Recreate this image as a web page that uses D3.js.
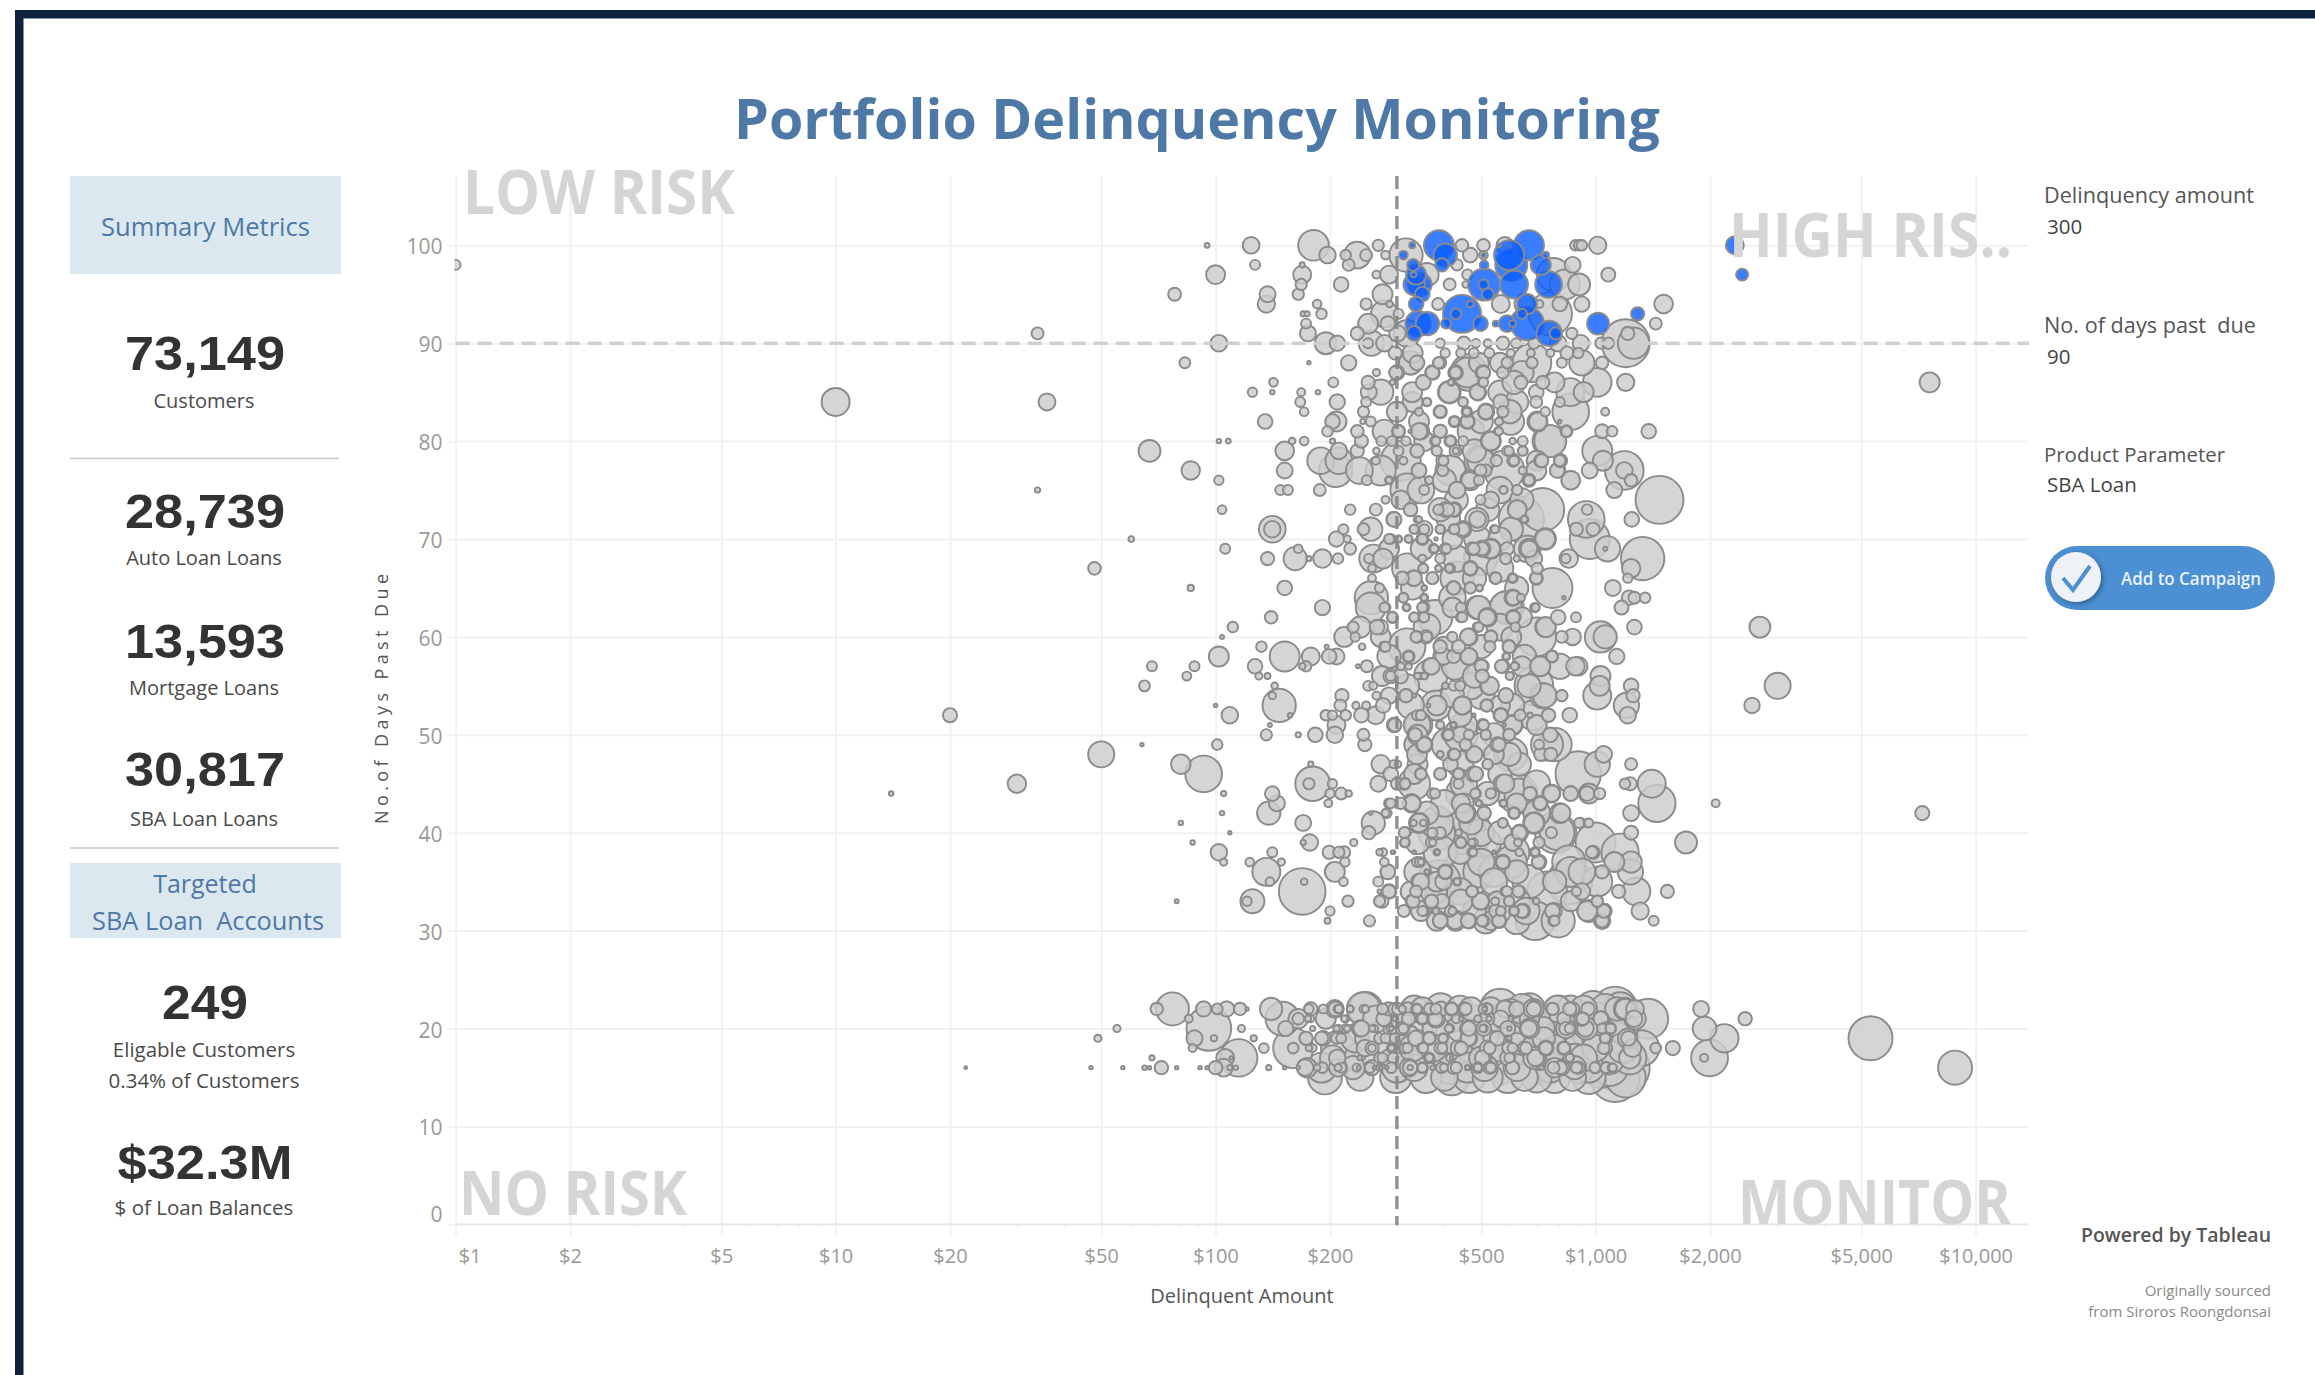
<!DOCTYPE html>
<html><head><meta charset="utf-8">
<script src="https://cdn.jsdelivr.net/npm/d3@7/dist/d3.min.js"></script>
<style>html,body{margin:0;padding:0;background:#fff;overflow:hidden}svg{display:block}text{font-family:"Open Sans",sans-serif}</style>
</head><body><svg id="c" width="2315" height="1375"></svg>
<script>
// each row: [days past due, delinquent amount $, balance]
const days15to22 = [
[22,77,273],[22,70,39],[22,93,58],[22,101,29],[22,107,58],[22,116,39],[22,121,3],[22,140,125],[22,178,45],[22,192,20],[22,206,80],[22,210,20],[22,226,13],[22,248,288],[22,248,13],[22,275,29],[22,296,39],[22,310,13],[22,338,29],[22,365,29],[22,380,29],[22,417,45],[22,452,45],[22,505,20],[22,519,29],[22,580,80],[22,620,58],[22,680,80],[22,770,39],[22,870,45],[22,955,45],[22,1195,125],[22,1270,80],[22,1125,498],[22,985,319],[22,560,404],[22,670,244],[22,800,179],[22,858,179],[22,391,244],[22,333,179],[22,1895,64],
[21,85,16],[21,150,288],[21,165,96],[21,165,34],[21,178,13],[21,220,13],[21,278,58],[21,313,58],[21,350,39],[21,380,80],[21,430,20],[21,490,13],[21,570,96],[21,670,96],[21,825,45],[21,925,39],[21,1035,58],[21,1270,115],[21,1375,400],[21,2475,45],
[20,96,498],[20,117,13],[20,153,58],[20,180,7],[20,211,13],[20,220,20],[20,242,65],[20,262,13],[20,287,10],[20,310,45],[20,413,20],[20,460,58],[20,505,13],[20,587,58],[20,670,96],[20,835,96],[20,945,125],[20,1065,39],[20,1090,39],[20,730,400],[20,905,319],[20,55,13],[20,1935,140],
[19,88,65],[19,99,10],[19,126,10],[19,173,45],[19,190,45],[19,208,29],[19,270,29],[19,287,29],[19,336,58],[19,365,45],[19,397,20],[19,463,58],[19,530,58],[19,587,8],[19,730,125],[19,1065,39],[19,1215,96],[19,1000,180],[19,233,200],[19,49,13],[19,2183,200],[19,5290,484],
[18,87,16],[18,134,24],[18,160,400],[18,160,29],[18,180,16],[18,258,45],[18,290,20],[18,315,29],[18,350,29],[18,391,39],[18,435,58],[18,519,58],[18,590,39],[18,650,45],[18,740,58],[18,825,45],[18,1065,39],[18,1250,80],[18,1440,29],[18,1597,51],[18,210,290],[18,1320,320],
[17,115,352],[17,106,80],[17,110,3],[17,68,7],[17,203,156],[17,240,244],[17,240,7],[17,270,29],[17,293,29],[17,365,29],[17,413,13],[17,497,125],[17,587,58],[17,690,125],[17,850,29],[17,1230,115],[17,881,200],[17,1995,340],[17,1930,16],
[16,72,45],[16,67,3],[16,79,3],[16,91,3],[16,95,3],[16,100,45],[16,105,80],[16,109,7],[16,113,5],[16,138,7],[16,152,3],[16,165,3],[16,174,96],[16,191,29],[16,210,80],[16,210,13],[16,235,16],[16,258,58],[16,270,10],[16,290,29],[16,322,80],[16,350,29],[16,393,29],[16,423,39],[16,460,7],[16,490,29],[16,527,39],[16,605,45],[16,710,5],[16,780,96],[16,815,58],[16,900,39],[16,995,29],[16,1065,29],[16,1105,20],[16,1180,717],[16,1035,404],[16,905,244],[16,333,179],[16,22,2],[16,47,3],[16,57,3],[16,65,5],[16,8830,290],
[15,194,288],[15,240,180],[15,298,244],[15,358,244],[15,418,319],[15,465,244],[15,587,244],[15,650,179],[15,780,244],[15,870,179],[15,1125,603]];
const denseLowBand = [
[22,176,22],[22,207,54],[22,211,16],[22,226,11],[22,245,278],[22,245,16],[22,285,44],[22,302,36],[22,320,44],[22,339,22],[22,367,36],[22,392,54],[22,418,36],[22,455,36],[22,510,5],[22,517,36],[22,576,69],[22,598,100],[22,687,54],[22,771,36],[22,855,44],[22,793,178],[22,1137,136],[22,1195,100],[22,1160,278],[22,930,178],[22,687,100],
[21,195,100],[21,175,11],[21,218,11],[21,277,54],[21,297,7],[21,322,44],[21,350,25],[21,379,54],[21,443,5],[21,524,7],[21,518,54],[21,562,69],[21,920,54],[21,1032,54],[21,1262,69],[21,930,225],
[20,208,11],[20,222,11],[20,240,69],[20,258,11],[20,290,5],[20,312,25],[20,411,16],[20,464,54],[20,508,16],[20,508,54],[20,593,5],[20,667,69],[20,835,44],[20,855,25],[20,940,69],[20,1040,25],[20,1095,25],[20,728,136],
[19,173,44],[19,192,54],[19,214,25],[19,280,25],[19,296,25],[19,340,69],[19,365,36],[19,397,25],[19,464,69],[19,551,54],[19,593,5],[19,1060,25],[19,1220,54],
[18,176,11],[18,247,69],[18,258,16],[18,290,11],[18,320,25],[18,352,25],[18,395,25],[18,443,44],[18,526,36],[18,605,25],[18,656,36],[18,740,44],[18,826,36],[18,1050,36],
[17,209,69],[17,245,3],[17,275,25],[17,365,16],[17,418,3],[17,503,54],[17,593,25],[17,695,69],[17,855,16],[17,285,69],
[16,172,69],[16,185,11],[16,214,25],[16,238,4],[16,255,28],[16,262,3],[16,272,3],[16,282,3],[16,325,54],[16,325,7],[16,350,22],[16,372,5],[16,399,16],[16,430,32],[16,460,5],[16,490,16],[16,530,25],[16,604,44],[16,720,5],[16,775,36],[16,808,44],[16,890,32],[16,1000,32],[16,1065,32],[16,1110,16],[16,190,225],[16,415,278],[16,562,278],[16,621,178],[16,880,136],[16,1090,336],[17,1230,278],[20,930,225]];
const lowBandBackdrop = [
[22,440,178],[22,470,136],[22,530,136],[21,600,225],[22,640,225],[21,700,178],[21,540,178],[21,310,136],[21,265,178],[22,350,136],[21,420,178],[21,480,178],[21,830,225],[21,1000,278],[22,1060,225],
[20,340,225],[20,380,178],[20,300,178],[20,440,178],[20,520,225],[20,620,278],[20,790,278],[20,1180,225],[19,250,136],[19,320,178],[19,410,225],[19,500,178],[19,590,225],[19,660,278],[19,760,278],[19,860,225],[19,960,225],[19,1130,278],
[18,280,136],[18,330,178],[18,375,178],[18,470,225],[18,560,178],[18,620,225],[18,700,225],[18,780,178],[18,900,225],[18,1000,178],[18,1180,225],[17,325,225],[17,430,278],[17,540,278],[17,640,278],[17,760,278],[17,930,178],[17,1080,278],
[16,230,136],[16,300,225],[16,460,225],[16,510,178],[16,690,278],[16,760,225],[16,960,225],[15,400,178],[15,520,225],[15,700,225],[15,960,278],[15,1200,400]];
const mainBandBackdrop = [
[89,330,100],[88,560,100],[87,640,136],[86,780,100],[85,560,136],[84,330,100],[84,620,136],[83,300,100],[82,500,136],[81,470,178],
[79,480,136],[78,700,100],[76,400,136],[75,560,178],[74,430,136],[74,640,136],[73,520,136],[72,410,136],[71,600,136],[70,560,136],[70,420,100],
[69,350,136],[68,430,178],[67,560,178],[66,480,136],[65,620,136],[65,330,136],[64,420,178],[63,420,100],[62,640,100],[61,360,178],[61,560,178],[60,600,100],
[59,500,136],[58,650,136],[57,640,100],[56,480,136],[55,320,136],[54,420,136],[54,500,178],[53,560,100],[52,440,136],[51,450,178],[51,700,100],[50,540,136],[50,340,100],
[49,500,136],[48,540,100],[47,440,178],[47,340,100],[46,560,136],[45,700,178],[44,520,136],[43,400,178],[43,620,100],[42,360,136],[42,700,178],[41,470,136],[40,560,136],[39,340,136],[39,520,178],[38,440,136],[37,500,178],[36,340,178],[36,620,136],[35,540,178],[35,780,136],[34,440,178],[33,620,178],[33,860,100],[32,480,136],[31,620,178]];
const days30s = [
[39,170,7],[39,177,69],[39,231,13],[39,315,19],[39,373,13],[39,442,28],[39,472,13],[39,605,69],[39,710,32],[39,1000,400],[39,1730,121],[39,87,5],
[38,102,69],[38,141,25],[38,199,44],[38,211,32],[38,218,36],[38,276,16],[38,294,3],[38,333,3],[38,383,5],[38,390,278],[38,476,16],[38,540,3],[38,605,278],[38,693,16],[38,978,36],[38,1160,348],
[37,105,13],[37,123,19],[37,149,13],[37,219,22],[37,278,19],[37,570,44],[37,598,256],[37,710,54],[37,850,278],[37,1120,100],[37,1240,114],[37,339,25],[37,347,11],
[36,136,196],[36,206,100],[36,284,54],[36,360,5],[36,402,44],[36,460,625],[36,493,245],[36,540,225],[36,1235,160],[36,860,225],[36,920,178],
[35,139,19],[35,171,11],[35,217,19],[35,268,25],[35,344,69],[35,387,469],[35,432,11],[35,668,278],[35,855,514],[35,1010,225],
[34,169,544],[34,270,4],[34,286,54],[34,326,100],[34,473,36],[34,580,28],[34,630,36],[34,890,22],[34,920,69],[34,1150,44],[34,1280,196],[34,1545,44],[34,375,178],[34,745,400],
[33,125,144],[33,121,22],[33,223,32],[33,274,44],[33,329,44],[33,370,44],[33,386,225],[33,498,75],[33,592,25],[33,698,11],[33,1010,32],[33,442,136],[33,552,100],[33,79,4],
[32,200,22],[32,347,100],[32,353,25],[32,420,16],[32,552,178],[32,563,22],[32,610,19],[32,640,44],[32,657,178],[32,775,69],[32,960,121],[32,1055,54],[32,1310,75],[32,313,36],
[31,197,9],[31,254,32],[31,382,100],[31,390,54],[31,428,100],[31,464,59],[31,507,36],[31,514,160],[31,557,54],[31,693,374],[31,775,28],[31,797,278],[31,1040,69],[31,1040,44],[31,1422,25]];
const dense30to47 = [
[47,520,28],[46,347,36],[46,390,36],[46,436,36],[46,484,54],[45,570,87],[45,314,36],[45,450,178],
[44,378,25],[44,484,25],[44,530,25],[44,630,225],[44,672,44],[44,766,69],[44,860,54],[44,950,54],
[43,329,69],[43,286,25],[43,442,87],[43,493,11],[43,572,16],[43,715,54],
[42,455,100],[42,509,44],[42,610,36],[42,812,87],[42,280,16],
[41,343,87],[41,570,25],[41,688,100],[41,905,25],[41,955,19],
[40,382,336],[40,468,469],[40,792,300],[40,632,69],[40,315,32],
[39,368,22],[39,442,32],[39,478,16],[39,605,69],[39,315,25],[39,625,16],
[38,382,11],[38,473,22],[38,333,3],[38,292,3],[38,270,11],[38,630,16],[38,692,25],[38,985,44],
[37,345,25],[37,570,54],[37,707,44],
[36,402,54],[36,360,7],[36,1040,44],[36,284,54],
[35,347,69],[35,432,16],[35,382,100],[35,398,69],
[34,337,36],[34,473,32],[34,585,28],[34,626,36],[34,286,44],
[33,331,44],[33,370,44],[33,394,54],[33,544,16],[33,592,25],[33,1010,32],[33,270,32],[33,498,69],
[32,350,25],[32,415,32],[32,380,11],[32,546,44],[32,563,22],[32,610,25],[32,643,54],[32,770,54],[32,950,100],[32,1050,44],
[31,390,54],[31,462,54],[31,503,32],[31,427,69],[31,530,87],[31,557,44],[31,780,25]];
const days40s = [
[49,101,28],[49,247,44],[49,337,136],[49,354,54],[49,455,36],[49,552,54],[49,745,256],[49,782,278],[49,710,25],[49,410,278],[49,64,3],
[48,423,36],[48,480,64],[48,598,278],[48,717,44],[48,762,44],[48,1050,69],[48,390,11],[48,339,100],[48,50,170],
[47,178,7],[47,272,87],[47,294,16],[47,302,11],[47,415,54],[47,520,25],[47,630,136],[47,1010,160],[47,1240,36],[47,81,95],
[46,289,54],[46,347,32],[46,390,36],[46,436,28],[46,478,59],[46,900,514],[46,333,100],[46,93,336],
[45,180,300],[45,176,32],[45,268,64],[45,300,36],[45,315,28],[45,333,256],[45,436,25],[45,578,87],[45,1233,44],[45,1195,28],[45,1405,196],[45,203,22],[45,30,85],
[44,105,7],[44,141,54],[44,200,22],[44,214,36],[44,224,11],[44,372,28],[44,482,25],[44,530,25],[44,622,400],[44,672,44],[44,765,81],[44,860,54],[44,960,100],[44,1025,32],[44,442,225],[44,14,5],
[43,145,64],[43,198,16],[43,289,25],[43,307,32],[43,328,87],[43,450,100],[43,493,9],[43,572,11],[43,715,44],[43,1450,348],[43,2070,16],
[42,104,5],[42,138,136],[42,256,3],[42,282,25],[42,453,87],[42,509,44],[42,610,28],[42,805,100],[42,1240,64],[42,7240,50],
[41,170,64],[41,260,136],[41,332,11],[41,343,100],[41,352,11],[41,382,278],[41,570,22],[41,688,114],[41,910,28],[41,960,19],[41,81,5],
[40,109,3],[40,253,44],[40,314,32],[40,372,25],[40,390,32],[40,436,11],[40,450,469],[40,498,178],[40,630,54],[40,765,32],[40,785,427],[40,1240,49]];
const days50s = [
[59,132,28],[59,196,4],[59,243,11],[59,278,28],[59,592,40],[59,319,336],[59,398,100],
[58,102,100],[58,152,225],[58,178,81],[58,199,54],[58,208,64],[58,394,75],[58,423,44],[58,464,75],[58,582,16],[58,768,36],[58,1137,59],[58,286,136],[58,322,25],
[57,127,54],[57,169,11],[57,173,28],[57,237,4],[57,250,36],[57,368,69],[57,503,44],[57,570,44],[57,615,16],[57,715,100],[57,805,160],[57,900,87],[57,442,278],[57,307,16],[57,68,25],[57,88,25],
[56,130,13],[56,137,9],[56,503,44],[56,595,16],[56,1030,100],[56,289,54],[56,347,11],[56,355,11],[56,274,100],[56,368,278],[56,84,20],
[55,143,11],[55,252,25],[55,260,16],[55,525,87],[55,668,136],[55,688,374],[55,1240,54],[55,1025,100],[55,402,11],[55,470,178],[55,65,30],[55,3013,170],
[54,141,13],[54,215,44],[54,265,16],[54,286,69],[54,317,44],[54,333,4],[54,580,54],[54,735,144],[54,815,32],[54,1010,196],[54,1255,44],
[53,100,3],[53,147,278],[53,213,36],[53,234,13],[53,249,16],[53,276,54],[53,363,4],[53,380,225],[53,382,100],[53,446,81],[53,517,40],[53,1205,160],[53,326,178],[53,605,136],[53,2580,60],
[52,109,69],[52,157,5],[52,195,28],[52,203,22],[52,220,28],[52,242,54],[52,264,81],[52,339,25],[52,347,25],[52,478,3],[52,563,54],[52,672,7],[52,685,225],[52,752,44],[52,855,54],[52,1215,69],[52,20,50],
[51,139,4],[51,208,81],[51,296,44],[51,343,178],[51,390,16],[51,423,7],[51,507,28],[51,605,100],[51,575,3],
[50,136,32],[50,165,7],[50,183,54],[50,206,69],[50,245,36],[50,335,44],[50,410,28],[50,464,25],[50,514,25],[50,592,36],[50,760,54],[50,442,278]];
const dense48to67 = [
[67,352,22],[66,332,64],[66,372,36],[67,386,11],[67,414,25],[67,468,44],[66,546,32],[66,605,16],[66,698,36],
[65,423,44],[65,468,32],[65,495,11],[65,354,7],
[64,312,25],[64,354,11],[64,607,54],[64,636,16],
[63,489,136],[63,580,256],[63,318,11],[63,352,36],[63,442,25],[63,692,22],[63,280,25],
[62,292,25],[62,333,22],[62,352,28],[62,442,25],[62,520,87],[62,607,44],
[61,489,25],[61,615,22],[61,737,100],[61,272,54],
[60,337,32],[60,358,44],[60,419,25],[60,462,69],[60,530,44],
[59,390,44],[59,280,25],[59,436,44],[59,592,44],[59,527,32],
[58,322,36],[58,398,69],[58,464,69],[58,582,11],[58,768,32],
[57,500,44],[57,565,44],[57,612,16],[57,715,100],[57,885,87],[57,322,11],[57,370,69],[57,427,178],
[56,289,25],[56,340,11],[56,354,11],[56,503,44],[56,594,16],[56,307,54],
[55,527,81],[55,423,25],[55,440,25],[54,726,160],[54,815,32],[54,581,54],[54,317,44],
[53,446,87],[53,517,36],[52,563,44],[52,633,32],[52,347,25],[52,752,44],
[51,605,87],[51,505,36],[51,295,54],[51,390,16],[51,423,11],[51,339,178],
[50,592,36],[50,408,36],[50,464,25],[50,514,25],[50,442,69],[50,335,44],
[49,557,44],[49,354,69],[49,337,136],[48,478,69],[48,425,32],[48,390,11],[48,592,136]];
const days60s = [
[69,106,25],[69,165,19],[69,226,36],[69,376,16],[69,405,22],[69,478,36],[69,503,44],[69,530,87],[69,668,100],[69,1075,160],[69,1060,4],[69,286,100],
[68,137,44],[68,162,136],[68,176,7],[68,191,87],[68,210,28],[68,253,22],[68,260,196],[68,276,100],[68,350,16],[68,390,25],[68,580,32],[68,620,11],[68,688,69],[68,850,87],[68,835,22],[68,1330,469],[68,498,278],
[67,258,16],[67,352,25],[67,386,11],[67,412,16],[67,468,54],[67,702,32],[67,1240,87],[67,319,225],[67,48,40],
[66,258,16],[66,310,44],[66,333,59],[66,372,36],[66,545,36],[66,605,25],[66,698,44],[66,1215,22],[66,432,278],
[65,152,54],[65,270,22],[65,354,7],[65,423,44],[65,468,32],[65,495,11],[65,770,400],[65,1110,64],[65,86,10],
[64,257,278],[64,312,22],[64,354,16],[64,605,69],[64,825,3],[64,1225,54],[64,1350,28],[64,1265,36],
[63,191,59],[63,256,225],[63,278,25],[63,318,16],[63,493,136],[63,585,278],[63,695,16],[63,1170,49],[63,350,25],
[62,140,40],[62,292,32],[62,333,25],[62,378,300],[62,354,25],[62,446,25],[62,607,54],[62,797,54],[62,888,25],[62,518,69],
[61,111,28],[61,230,32],[61,240,114],[61,266,54],[61,493,22],[61,740,100],[61,1265,54],[61,2706,110],
[60,104,4],[60,218,100],[60,233,22],[60,272,100],[60,339,36],[60,360,25],[60,420,25],[60,464,75],[60,530,40],[60,700,374],[60,815,36],[60,870,69],[60,1030,245],[60,1060,136]];
const days70s = [
[79,152,87],[79,211,69],[79,236,44],[79,265,11],[79,303,25],[79,339,44],[79,382,25],[79,429,11],[79,592,22],[79,643,22],[79,1010,225],[79,67,120],
[78,189,178],[78,211,178],[78,264,16],[78,307,400],[78,398,25],[78,498,178],[78,610,25],[78,717,44],[78,805,32],[78,1045,100],
[77,152,64],[77,207,278],[77,239,178],[77,272,225],[77,343,54],[77,415,225],[77,514,36],[77,575,400],[77,797,54],[77,965,64],[77,1190,374],[77,1190,69],[77,86,85],
[76,250,25],[76,286,16],[76,364,16],[76,468,100],[76,668,28],[76,860,87],[76,1240,40],[76,102,22],
[75,148,25],[75,155,25],[75,188,36],[75,319,278],[75,432,69],[75,572,16],[75,622,25],[75,1120,64],[75,34,7],
[74,1473,576],
[73,104,19],[73,226,28],[73,264,36],[73,326,44],[73,386,28],[73,402,54],[73,423,44],[73,622,87],[73,725,469],[73,950,28],
[72,294,54],[72,339,11],[72,489,69],[72,638,514],[72,649,11],[72,945,336],[72,1245,54],
[71,141,178],[71,141,69],[71,217,25],[71,245,36],[71,256,136],[71,333,19],[71,354,25],[71,390,19],[71,423,25],[71,448,44],[71,540,16],[71,890,44],[71,985,44],
[70,208,59],[70,222,13],[70,289,25],[70,303,13],[70,322,13],[70,350,25],[70,380,3],[70,965,400],[70,737,100],[70,489,178],[70,60,8]];
const dense69to87 = [
[87,300,54],[88,326,136],[86,352,54],[88,390,36],[87,372,54],[87,428,54],[87,460,225],[87,505,54],[86,505,25],[86,418,11],[85,490,69],[85,412,114],[84,448,22],[84,360,19],
[83,390,44],[83,458,28],[83,515,69],[83,570,32],[82,343,100],[82,425,32],[82,460,54],[82,557,16],[82,598,178],[82,705,81],[81,303,36],[81,347,69],[81,390,44],[81,553,16],[81,838,36],
[80,530,100],[80,378,25],[80,415,36],[80,448,25],[80,752,256],[79,585,25],[79,643,25],[79,382,25],[79,428,36],[79,339,44],
[78,495,225],[78,394,32],[78,548,32],[78,607,36],[78,722,44],[78,808,44],[78,312,16],
[77,498,36],[77,396,32],[77,343,54],[77,643,16],[77,698,100],[77,792,54],
[76,365,16],[76,466,69],[76,493,25],[76,668,44],[76,860,87],[76,286,11],
[75,432,69],[75,622,25],[75,572,16],[75,354,25],[75,347,178],[74,307,87],[74,530,69],[74,498,25],[74,280,16],
[73,390,136],[73,408,44],[73,425,54],[73,326,44],[73,622,87],
[72,487,136],[72,295,54],[72,343,11],[72,650,16],
[71,354,69],[71,333,22],[71,390,22],[71,425,25],[71,448,69],[71,544,16],
[70,737,114],[70,303,11],[70,286,25],[70,322,16],[70,350,36],
[69,375,25],[69,473,44],[69,503,69],[69,530,100],[69,585,44],[69,668,69],[69,661,178],[69,402,32]];
const days80s = [
[89,297,44],[89,402,22],[89,442,22],[89,478,25],[89,525,25],[89,598,16],[89,675,16],[89,760,16],[89,841,44],[89,900,28],
[88,224,59],[88,176,3],[88,326,136],[88,339,54],[88,386,32],[88,493,100],[88,585,32],[88,680,374],[88,680,32],[88,815,25],[88,920,160],[88,1040,40],[88,83,30],
[87,265,13],[87,298,44],[87,372,44],[87,428,36],[87,464,336],[87,507,44],[87,570,36],
[86,142,19],[86,204,25],[86,252,44],[86,292,7],[86,352,54],[86,416,9],[86,507,22],[86,610,136],[86,636,44],[86,726,44],[86,1010,205],[86,1200,75],[86,7570,100],
[85,125,22],[85,141,5],[85,168,16],[85,186,5],[85,253,64],[85,272,160],[85,329,100],[85,412,128],[85,489,59],[85,698,54],[85,858,196],[85,930,100],
[84,167,25],[84,209,59],[84,249,25],[84,360,16],[84,448,22],[84,698,36],[84,805,25],[84,563,60],[84,10,196],[84,36,72],
[83,171,19],[83,245,32],[83,343,16],[83,390,36],[83,458,16],[83,514,54],[83,595,136],[83,737,22],[83,860,336],[83,1060,16],
[82,135,54],[82,203,54],[82,208,100],[82,244,7],[82,256,25],[82,425,22],[82,460,44],[82,557,16],[82,703,100],[82,805,3],
[81,197,28],[81,236,40],[81,278,136],[81,303,44],[81,325,3],[81,343,69],[81,390,44],[81,557,16],[81,838,28],[81,1040,49],[81,1105,28],[81,1380,54],
[80,159,11],[80,171,19],[80,203,7],[80,242,44],[80,273,25],[80,291,25],[80,317,22],[80,354,100],[80,380,19],[80,415,25],[80,530,87],[80,605,11],[80,643,25],[80,760,256],[80,102,5],[80,108,6]];
const days90to100 = [
[90,195,121],[90,209,59],[90,252,25],[90,257,160],[90,278,69],[90,390,22],[90,450,44],[90,484,19],[90,520,16],[90,570,44],[90,618,25],[90,688,32],[90,797,69],[90,915,69],[90,1033,32],[90,1080,32],[90,1200,576],[90,1258,245],[90,102,70],
[91,175,64],[91,236,44],[91,301,69],[91,319,178],[91,866,32],[91,1215,44],[91,34,36],
[92,173,25],[92,252,100],[92,284,54],[92,1440,36],
[93,170,7],[93,174,7],[93,190,28],[93,278,178],[93,303,25],[93,760,469],
[94,136,75],[94,185,19],[94,249,32],[94,287,11],[94,385,36],[94,563,81],[94,650,100],[94,711,16],[94,805,54],[94,920,59],[94,1510,87],
[95,137,64],[95,165,32],[95,275,100],[95,78,42],
[96,168,32],[96,214,54],[96,413,36],[96,455,11],[96,830,225],[96,905,121],
[97,169,81],[97,265,16],[97,286,81],[97,360,136],[97,460,28],[97,775,278],[97,1080,49],[97,100,90],
[98,127,25],[98,169,7],[98,224,36],[98,432,32],[98,870,64],[98,1,25],
[99,197,69],[99,220,28],[99,236,178],[99,249,36],[99,280,19],[99,317,278],[99,468,54],[99,507,19],
[100,124,70],[100,181,235],[100,268,32],[100,445,40],[100,507,40],[100,577,69],[100,885,28],[100,905,28],[100,920,28],[100,1013,75],[100,95,6]];
const targeted = [
[100,387,225],[100,668,225],[100,329,9],[100,557,3],[100,2325,81],
[99,312,19],[99,402,136],[99,507,5],[99,740,11],[99,592,225],
[98,331,36],[98,394,44],[98,509,19],[98,600,256],[98,717,100],
[97,337,100],[97,332,7],[97,2430,36],
[96,333,114],[96,345,136],[96,507,25],[96,509,256],[96,610,196],[96,752,178],
[95,350,54],[95,520,36],
[94,337,54],[94,468,11],[94,660,100],
[93,445,361],[93,429,28],[93,640,25],[93,1290,44],
[92,341,160],[92,361,136],[92,404,25],[92,498,54],[92,546,9],[92,585,69],[92,605,11],[92,661,278],[92,1015,121],
[91,333,54],[91,755,160],[91,785,36]];

const xTickValues = [1,2,5,10,20,50,100,200,500,1000,2000,5000,10000];
const xMinorValues = [3,4,6,7,8,9,30,40,60,70,80,90,300,400,600,700,800,900,3000,4000,6000,7000,8000,9000];
const yTickValues = [0,10,20,30,40,50,60,70,80,90,100];
const delinquencyParameter = 300, daysParameter = 90;
const topKpis = [["73,149","Customers",370,408],["28,739","Auto Loan Loans",528,565],["13,593","Mortgage Loans",658,695],["30,817","SBA Loan Loans",786,826]];
const lowKpis = [["249",1019,86],["$32.3M",1179,175]];

const svg = d3.select("#c");
const NUM = '"Liberation Sans",Arial,sans-serif', TXT = '"Open Sans",sans-serif';
const plotLeft = 455.6, plotRight = 2029, plotTop = 176, plotBottom = 1224.3;
const x = d3.scaleLog().domain([1,10000]).range([plotLeft,1975.6]);
const y = d3.scaleLinear().domain([0,100]).range([plotBottom,245.3]);
const r = d3.scaleSqrt().domain([0,625]).range([0,25]);

function T(s,px,py,size,fill,anchor,extra){
  const t = svg.append("text").attr("x",px).attr("y",py).attr("font-size",size).attr("fill",fill).attr("text-anchor",anchor||"start").text(s);
  if(extra) for(const k in extra) t.attr(k,extra[k]);
  return t;
}
// frame
svg.append("rect").attr("x",15).attr("y",10).attr("width",2300).attr("height",8.5).attr("fill","#0f2240");
svg.append("rect").attr("x",15).attr("y",10).attr("width",8.5).attr("height",1365).attr("fill","#0f2240");

// title
T("Portfolio Delinquency Monitoring",734,139,56,"#4e79a7","start",{"font-weight":700,textLength:926,lengthAdjust:"spacingAndGlyphs"});

// left panel
const BOX="#dce8ef", BLUE="#4e79a7", DARK="#333333", MID="#4a4a4a";
const NUMSTYLE = {"font-weight":700,style:"font-family:"+NUM,lengthAdjust:"spacingAndGlyphs"};
svg.append("rect").attr("x",70).attr("y",176).attr("width",271).attr("height",98).attr("fill",BOX);
T("Summary Metrics",205.5,236,25,BLUE,"middle",{textLength:209,lengthAdjust:"spacingAndGlyphs"});
topKpis.forEach(k=>{
  T(k[0],205,k[2],48,DARK,"middle",Object.assign({textLength:160},NUMSTYLE));
  T(k[1],204,k[3],20,MID,"middle");
});
svg.append("line").attr("x1",70).attr("x2",339).attr("y1",458.5).attr("y2",458.5).attr("stroke","#c8c8c8").attr("stroke-width",1.5);
svg.append("line").attr("x1",70).attr("x2",339).attr("y1",848).attr("y2",848).attr("stroke","#c8c8c8").attr("stroke-width",1.5);
svg.append("rect").attr("x",70).attr("y",863).attr("width",271).attr("height",75).attr("fill",BOX);
T("Targeted",205,893,25,BLUE,"middle");
T("SBA Loan  Accounts",208,930,25,BLUE,"middle",{"xml:space":"preserve",textLength:232,lengthAdjust:"spacingAndGlyphs"});
lowKpis.forEach(k=>T(k[0],205,k[1],48,DARK,"middle",Object.assign({textLength:k[2]},NUMSTYLE)));
T("Eligable Customers",204,1057,20.5,MID,"middle");
T("0.34% of Customers",204,1088,20.5,MID,"middle");
T("$ of Loan Balances",204,1215,20.5,MID,"middle");

// axes & grid
const GRID="#f1f1f1", TICK="#999999";
const gy = svg.append("g").attr("transform",`translate(${plotLeft},0)`)
  .call(d3.axisLeft(y).tickValues(yTickValues).tickSize(8).tickPadding(5));
gy.select(".domain").remove();
gy.selectAll(".tick line").attr("stroke",GRID).attr("stroke-width",2);
gy.selectAll(".tick").append("line").attr("x1",0).attr("x2",plotRight-plotLeft).attr("stroke",GRID).attr("stroke-width",2);
gy.selectAll(".tick text").attr("font-size",21).attr("fill",TICK).attr("dy",null).attr("y",8.5).style("font-family",TXT)
  .filter(d=>d===0).attr("y",-3);
const gx = svg.append("g").attr("transform",`translate(0,${plotBottom})`)
  .call(d3.axisBottom(x).tickValues(xTickValues).tickFormat(d=>"$"+d3.format(",")(d)).tickSize(12).tickPadding(8));
gx.select(".domain").remove();
gx.selectAll(".tick line").attr("stroke",GRID).attr("stroke-width",2);
gx.selectAll(".tick").append("line").attr("y1",0).attr("y2",plotTop-plotBottom).attr("stroke",GRID).attr("stroke-width",2);
gx.selectAll(".tick text").attr("font-size",20).attr("fill",TICK).attr("y",25).attr("dy",14).style("font-family",TXT)
  .filter(d=>d===1).attr("x",14);
const gm = svg.append("g").attr("transform",`translate(0,${plotBottom})`)
  .call(d3.axisBottom(x).tickValues(xMinorValues).tickFormat("").tickSize(4));
gm.select(".domain").remove();
gm.selectAll("line").attr("stroke",GRID).attr("stroke-width",1.5);
svg.append("line").attr("x1",plotLeft).attr("x2",plotRight).attr("y1",plotBottom).attr("y2",plotBottom).attr("stroke","#e6e6e6").attr("stroke-width",1.5);

T("Delinquent Amount",1242,1303,20,"#555","middle");
T("No.of Days Past Due",0,0,18,"#555","middle",{transform:"translate(388,699) rotate(-90)",textLength:250,lengthAdjust:"spacing"});

// points
svg.append("clipPath").attr("id","plot").append("rect").attr("x",plotLeft-1).attr("y",plotTop).attr("width",plotRight-plotLeft+1).attr("height",plotBottom-plotTop);
const plot = svg.append("g").attr("clip-path","url(#plot)");
const grey = [].concat(days15to22,denseLowBand,lowBandBackdrop,mainBandBackdrop,days30s,dense30to47,days40s,days50s,dense48to67,days60s,days70s,dense69to87,days80s,days90to100)
  .sort((a,b)=>b[2]-a[2]);
const STROKE="#8b8b8b";
plot.append("g").selectAll("circle").data(grey).join("circle")
  .attr("cx",d=>x(d[1])).attr("cy",d=>y(d[0])).attr("r",d=>r(d[2]))
  .attr("fill","#cccccc").attr("fill-opacity",0.82).attr("stroke",STROKE).attr("stroke-width",1.9);

// reference lines
plot.append("line").attr("x1",plotLeft).attr("x2",plotRight).attr("y1",y(daysParameter)).attr("y2",y(daysParameter))
  .attr("stroke","#cfcfcf").attr("stroke-width",3.4).attr("stroke-dasharray","14 8");
plot.append("g").selectAll("circle").data(targeted.slice().sort((a,b)=>b[2]-a[2])).join("circle")
  .attr("cx",d=>x(d[1])).attr("cy",d=>y(d[0])).attr("r",d=>r(d[2]))
  .attr("fill","#0a5cff").attr("fill-opacity",0.8).attr("stroke",STROKE).attr("stroke-width",1.9);
svg.append("line").attr("x1",x(delinquencyParameter)).attr("x2",x(delinquencyParameter)).attr("y1",plotTop).attr("y2",plotBottom+1)
  .attr("stroke","#888").attr("stroke-width",3.4).attr("stroke-dasharray","13 7").attr("stroke-opacity",.92);

// quadrant labels
const Q="#d5d5d5";
[["LOW RISK",463,214,272],["HIGH RIS..",1729,257,283],["NO RISK",459,1215,228],["MONITOR",1738,1224,273]].forEach(q=>
  T(q[0],q[1],q[2],60,Q,"start",{"font-weight":700,textLength:q[3],lengthAdjust:"spacingAndGlyphs"}));

// right panel
const RT="#555";
T("Delinquency amount",2044,203,21,RT,"start",{textLength:210,lengthAdjust:"spacingAndGlyphs"});
T("300",2047,234,20.5,"#444");
T("No. of days past  due",2044,333,21,RT,"start",{"xml:space":"preserve",textLength:212,lengthAdjust:"spacingAndGlyphs"});
T("90",2047,364,20.5,"#444");
T("Product Parameter",2044,462,20,RT,"start",{textLength:181,lengthAdjust:"spacingAndGlyphs"});
T("SBA Loan",2047,492,20.5,"#444");

// button
const defs = svg.append("defs");
const shadow = defs.append("filter").attr("id","sh").attr("x","-30%").attr("y","-30%").attr("width","160%").attr("height","160%");
shadow.append("feDropShadow").attr("dx",2).attr("dy",2).attr("stdDeviation",2.5).attr("flood-color","#1d3f66").attr("flood-opacity",.6);
svg.append("rect").attr("x",2045).attr("y",546).attr("width",230).attr("height",64).attr("rx",32).attr("fill","#4c8fd2");
svg.append("circle").attr("cx",2076).attr("cy",577).attr("r",25).attr("fill","#eef2f6").attr("filter","url(#sh)");
svg.append("path").attr("d",d3.line()([[2063,578],[2073,590],[2090,566]])).attr("fill","none").attr("stroke","#4c8fd2").attr("stroke-width",4);
T("Add to Campaign",2121,585,18,"#e8f1fa","start",{"font-weight":600,textLength:140,lengthAdjust:"spacingAndGlyphs"});

// footer
T("Powered by Tableau",2271,1242,20,"#555","end",{"font-weight":600,textLength:190,lengthAdjust:"spacingAndGlyphs"});
T("Originally sourced",2271,1296,15,"#8a8a8a","end");
T("from Siroros Roongdonsai",2271,1317,15,"#8a8a8a","end");
</script></body></html>
